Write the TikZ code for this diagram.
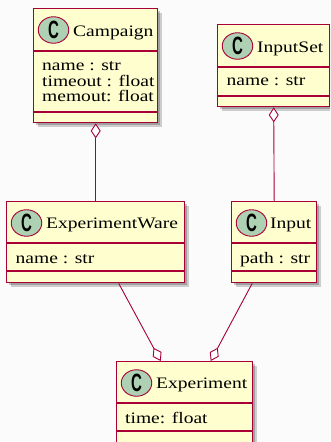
\documentclass[tikz,border=0pt]{standalone}
\usepackage{fontspec}
\setmainfont{Liberation Serif}[FakeStretch=1.22]
\newfontfamily\spotfont{Liberation Sans}[FakeStretch=0.6]
\usetikzlibrary{arrows.meta,shadows,shapes.geometric}
\definecolor{umlfill}{HTML}{FEFECE}
\definecolor{umlline}{HTML}{A80036}
\definecolor{umlspot}{HTML}{ADD1B2}

\begin{document}
\begin{tikzpicture}[x=1pt,y=-1pt,
  class box/.style={draw=umlline,fill=umlfill,line width=1.4pt,anchor=north west,inner sep=0pt,
    drop shadow={shadow xshift=4pt,shadow yshift=-4pt,opacity=0.18,fill=black},
    drop shadow={shadow xshift=2.5pt,shadow yshift=-2.5pt,opacity=0.22,fill=black}},
  spot/.style={ellipse,draw=umlline,fill=umlspot,line width=0.9pt,inner sep=0pt,
    minimum width=30.5pt,minimum height=26.5pt,font=\spotfont\bfseries\fontsize{25}{25}\selectfont},
  label text/.style={anchor=base west,inner sep=0pt,font=\fontsize{16}{16}\selectfont},
  sep line/.style={draw=umlline,line width=1.2pt},
  agg/.style={draw=umlline,line width=0.9pt,{Diamond[length=15pt,width=10pt,fill=white]}-}]
  \useasboundingbox (0,0) rectangle (330,442);
  \clip (0,0) rectangle (330,442);
  \fill[gray!3] (0,0) rectangle (330,442);

  % classes
  \node[class box,minimum width=124pt,minimum height=114pt] (camp) at (33,8) {};
  \node[class box,minimum width=112pt,minimum height=82pt] (inset) at (217,24) {};
  \node[class box,minimum width=178pt,minimum height=81pt] (exw) at (6,201) {};
  \node[class box,minimum width=85pt,minimum height=81pt] (inp) at (231,201) {};
  \node[class box,minimum width=136pt,minimum height=90pt] (exp) at (116,361) {};

  % headers
  \node[spot] (camp-c) at ([shift={(20.5,22)}]camp.north west) {C};
  \node[label text] (camp-t) at ([shift={(40,28)}]camp.north west) {Campaign};
  \node[spot] (inset-c) at ([shift={(20.5,22)}]inset.north west) {C};
  \node[label text] (inset-t) at ([shift={(40,28)}]inset.north west) {InputSet};
  \node[spot] (exw-c) at ([shift={(20.5,22)}]exw.north west) {C};
  \node[label text] (exw-t) at ([shift={(40,27.5)}]exw.north west) {ExperimentWare};
  \node[spot] (inp-c) at ([shift={(20.5,22)}]inp.north west) {C};
  \node[label text] (inp-t) at ([shift={(39,27.5)}]inp.north west) {Input};
  \node[spot] (exp-c) at ([shift={(20.5,22)}]exp.north west) {C};
  \node[label text] (exp-t) at ([shift={(40,27.5)}]exp.north west) {Experiment};

  % separators
  \draw[sep line] ([yshift=-43pt]camp.north west) -- ([yshift=-43pt]camp.north east);
  \draw[sep line] ([yshift=-104pt]camp.north west) -- ([yshift=-104pt]camp.north east);
  \draw[sep line] ([yshift=-43pt]inset.north west) -- ([yshift=-43pt]inset.north east);
  \draw[sep line] ([yshift=-72pt]inset.north west) -- ([yshift=-72pt]inset.north east);
  \draw[sep line] ([yshift=-42pt]exw.north west) -- ([yshift=-42pt]exw.north east);
  \draw[sep line] ([yshift=-70pt]exw.north west) -- ([yshift=-70pt]exw.north east);
  \draw[sep line] ([yshift=-42pt]inp.north west) -- ([yshift=-42pt]inp.north east);
  \draw[sep line] ([yshift=-70pt]inp.north west) -- ([yshift=-70pt]inp.north east);
  \draw[sep line] ([yshift=-42pt]exp.north west) -- ([yshift=-42pt]exp.north east);
  \draw[sep line] ([yshift=-70pt]exp.north west) -- ([yshift=-70pt]exp.north east);

  % attributes
  \node[label text] (camp-a1) at ([shift={(9,62)}]camp.north west) {name : str};
  \node[label text] (camp-a2) at ([shift={(9,78)}]camp.north west) {timeout : float};
  \node[label text] (camp-a3) at ([shift={(9,93.5)}]camp.north west) {memout: float};
  \node[label text] (inset-a1) at ([shift={(9.5,61)}]inset.north west) {name : str};
  \node[label text] (exw-a1) at ([shift={(9.5,62)}]exw.north west) {name : str};
  \node[label text] (inp-a1) at ([shift={(9,62)}]inp.north west) {path : str};
  \node[label text] (exp-a1) at ([shift={(9,62)}]exp.north west) {time: float};

  % aggregations
  \draw[agg] (camp.south) -- (exw.north);
  \draw[agg] (inset.south) -- (inp.north);
  \draw[agg] ([xshift=-24pt]exp.north) -- ([xshift=23pt]exw.south);
  \draw[agg] ([xshift=26pt]exp.north) -- ([xshift=-22pt]inp.south);
\end{tikzpicture}
\end{document}
